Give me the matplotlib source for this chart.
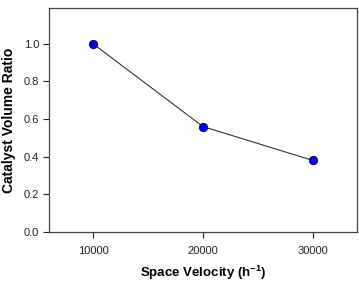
import matplotlib
matplotlib.use("Agg")
import matplotlib.pyplot as plt

space_velocity = [10000, 20000, 30000]
volume_ratio = [1.0, 0.56, 0.38]
x_ticks = [10000, 20000, 30000]
y_ticks = [0.0, 0.2, 0.4, 0.6, 0.8, 1.0]

plt.rcParams['font.family'] = ['Liberation Sans', 'DejaVu Sans']
plt.rcParams['mathtext.fontset'] = 'custom'
plt.rcParams['mathtext.rm'] = 'Liberation Sans:bold'
plt.rcParams['mathtext.default'] = 'rm'
fig = plt.figure(figsize=(3.59, 2.82), dpi=100)
ax = fig.add_axes([49/359, 1-232/282, (357-49)/359, (232-8)/282])
ax.plot(space_velocity, volume_ratio, color='#333333', lw=0.8,
        marker='o', markersize=6, markerfacecolor='#0000dd', markeredgecolor='#000066', markeredgewidth=0.6)
ax.set_xlim(6000, 34000)
ax.set_ylim(0, 1.19)
ax.set_xticks(x_ticks)
ax.set_yticks(y_ticks)
ax.set_yticklabels([f"{v:.1f}" for v in y_ticks])
ax.tick_params(direction='out', length=4, width=0.8, labelsize=8, colors='#222222')
ax.tick_params(axis='y', pad=3)
ax.tick_params(axis='x', pad=6)
for s in ax.spines.values():
    s.set_linewidth(0.9)
    s.set_color('#444444')
ax.set_xlabel('Space Velocity (h$^{-1}$)', fontsize=9.5, fontweight='bold')
ax.set_ylabel('Catalyst Volume Ratio', fontsize=10, fontweight='bold')
ax.xaxis.set_label_coords((203.5-49)/308, -(273-232)/224, transform=ax.transAxes)
ax.yaxis.set_label_coords(-(49-9)/308, (232-120)/224, transform=ax.transAxes)
ax.xaxis.label.set_va('center')
ax.yaxis.label.set_va('center')
fig.savefig('out.png', dpi=100)
